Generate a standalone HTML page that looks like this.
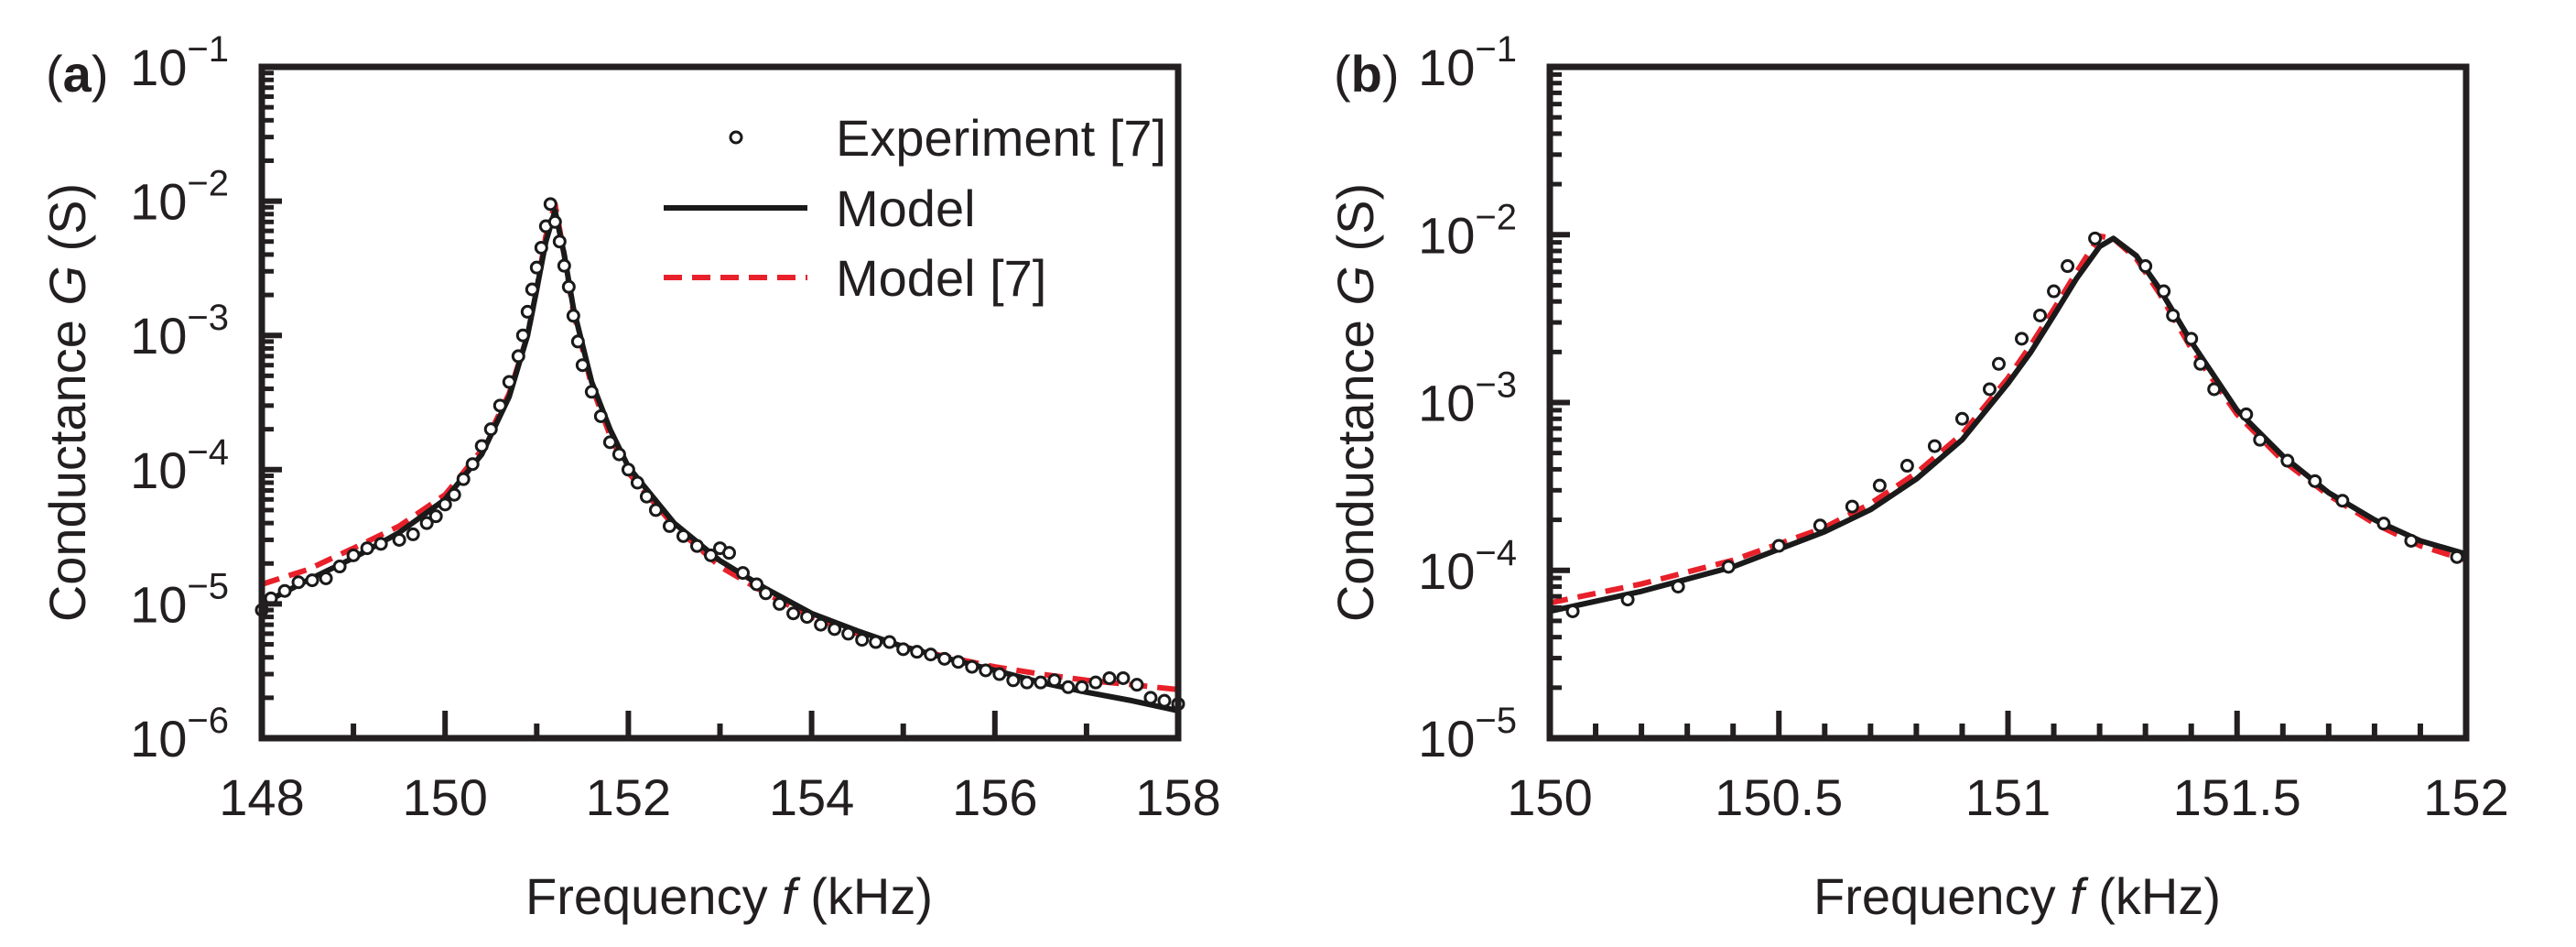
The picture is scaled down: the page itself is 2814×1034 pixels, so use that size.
<!DOCTYPE html>
<html><head><meta charset="utf-8"><style>
html,body{margin:0;padding:0;background:#fff;}
svg{display:block;font-family:"Liberation Sans",Arial,sans-serif;}
</style></head><body>
<svg id="fig" width="2814" height="1034" viewBox="0 0 2814 1034" xmlns="http://www.w3.org/2000/svg"></svg>
<script>
// ---------- Panel (a) data ----------
const expA_f = [148.0,148.1,148.25,148.4,148.55,148.7,148.85,149.0,149.15,149.3,149.5,149.65,149.8,149.9,150.0,150.1,150.2,150.3,150.4,150.5,150.6,150.7,150.8,150.85,150.9,150.95,151.0,151.05,151.1,151.15,151.2,151.25,151.3,151.35,151.4,151.45,151.5,151.6,151.7,151.8,151.9,152.0,152.1,152.2,152.3,152.45,152.6,152.75,152.9,153.0,153.1,153.25,153.4,153.5,153.65,153.8,153.95,154.1,154.25,154.4,154.55,154.7,154.85,155.0,155.15,155.3,155.45,155.6,155.75,155.9,156.05,156.2,156.35,156.5,156.65,156.8,156.95,157.1,157.25,157.4,157.55,157.7,157.85,158.0];
const expA_g = [9e-6,1.1e-5,1.25e-5,1.45e-5,1.5e-5,1.55e-5,1.9e-5,2.3e-5,2.6e-5,2.8e-5,3.0e-5,3.3e-5,4.0e-5,4.5e-5,5.5e-5,6.5e-5,8.5e-5,1.1e-4,1.5e-4,2.0e-4,3.0e-4,4.5e-4,7e-4,1.0e-3,1.5e-3,2.2e-3,3.2e-3,4.5e-3,6.5e-3,9.5e-3,7e-3,5e-3,3.3e-3,2.3e-3,1.4e-3,9e-4,6e-4,3.8e-4,2.5e-4,1.6e-4,1.3e-4,1.0e-4,8e-5,6.3e-5,5e-5,3.8e-5,3.2e-5,2.7e-5,2.3e-5,2.6e-5,2.4e-5,1.7e-5,1.4e-5,1.2e-5,1.0e-5,8.5e-6,8.0e-6,7e-6,6.5e-6,6.0e-6,5.4e-6,5.2e-6,5.2e-6,4.6e-6,4.4e-6,4.2e-6,3.9e-6,3.7e-6,3.4e-6,3.2e-6,3.0e-6,2.7e-6,2.6e-6,2.6e-6,2.7e-6,2.4e-6,2.4e-6,2.6e-6,2.8e-6,2.8e-6,2.5e-6,2.0e-6,1.9e-6,1.8e-6];
const modA_f = [148,148.5,149,149.5,150,150.4,150.7,150.9,151.0,151.1,151.2,151.3,151.4,151.6,151.8,152,152.5,153,153.5,154,154.5,155,155.5,156,156.5,157,157.5,158];
const modA_g = [1.0e-5,1.5e-5,2.2e-5,3.4e-5,6e-5,1.3e-4,3.5e-4,1.0e-3,2.2e-3,5e-3,8.5e-3,4e-3,1.6e-3,4.5e-4,2.0e-4,1.05e-4,4e-5,2.1e-5,1.3e-5,8.5e-6,6.3e-6,4.8e-6,3.9e-6,3.2e-6,2.6e-6,2.2e-6,1.9e-6,1.6e-6];
const mod7A_f = [148,148.5,149,149.5,150,150.4,150.7,150.9,151.0,151.1,151.2,151.3,151.4,151.6,151.8,152,152.5,153,153.5,154,154.5,155,155.5,156,156.5,157,157.5,158];
const mod7A_g = [1.4e-5,1.8e-5,2.6e-5,3.8e-5,6.5e-5,1.4e-4,3.7e-4,1.0e-3,2.2e-3,5.5e-3,9.5e-3,4e-3,1.5e-3,4.2e-4,1.8e-4,9.5e-5,3.8e-5,1.9e-5,1.2e-5,8e-6,6e-6,4.8e-6,4.0e-6,3.4e-6,3.0e-6,2.7e-6,2.5e-6,2.3e-6];
const xTicksA = [148,150,152,154,156,158];
const xTickLabelsA = ["148","150","152","154","156","158"];
// ---------- Panel (b) data ----------
const expB_f = [150.05,150.17,150.28,150.39,150.5,150.59,150.66,150.72,150.78,150.84,150.9,150.96,150.98,151.03,151.07,151.1,151.13,151.19,151.3,151.34,151.36,151.4,151.42,151.45,151.52,151.55,151.61,151.67,151.73,151.82,151.88,151.98];
const expB_g = [5.7e-5,6.7e-5,8e-5,1.05e-4,1.4e-4,1.85e-4,2.4e-4,3.2e-4,4.2e-4,5.5e-4,8e-4,1.2e-3,1.7e-3,2.4e-3,3.3e-3,4.6e-3,6.5e-3,9.5e-3,6.5e-3,4.6e-3,3.3e-3,2.4e-3,1.7e-3,1.2e-3,8.5e-4,6e-4,4.5e-4,3.4e-4,2.6e-4,1.9e-4,1.5e-4,1.2e-4];
const modB_f = [150,150.2,150.4,150.6,150.7,150.8,150.9,151.0,151.05,151.1,151.15,151.2,151.23,151.28,151.33,151.4,151.5,151.6,151.7,151.8,151.9,152];
const modB_g = [5.7e-5,7.5e-5,1.05e-4,1.7e-4,2.3e-4,3.5e-4,6e-4,1.3e-3,2.0e-3,3.3e-3,5.5e-3,8.5e-3,9.5e-3,7.5e-3,4.8e-3,2.3e-3,9e-4,4.8e-4,2.9e-4,2.0e-4,1.5e-4,1.25e-4];
const mod7B_f = [150,150.2,150.4,150.6,150.7,150.8,150.9,151.0,151.05,151.1,151.15,151.2,151.23,151.28,151.33,151.4,151.5,151.6,151.7,151.8,151.9,152];
const mod7B_g = [6.4e-5,8.3e-5,1.15e-4,1.8e-4,2.5e-4,3.8e-4,6.5e-4,1.4e-3,2.2e-3,3.6e-3,6e-3,9.8e-3,9.5e-3,7.2e-3,4.5e-3,2.1e-3,8.5e-4,4.5e-4,2.8e-4,1.9e-4,1.4e-4,1.15e-4];
const xTicksB = [150,150.5,151,151.5,152];
const xTickLabelsB = ["150","150.5","151","151.5","152"];

const NS = "http://www.w3.org/2000/svg";
const svg = document.getElementById('fig');
function mk(tag, attrs, parent){
  const e = document.createElementNS(NS, tag);
  for (const k in attrs) e.setAttribute(k, attrs[k]);
  (parent||svg).appendChild(e);
  return e;
}

function panel(o){
  const g = mk('g', {});
  
  
  const L=o.left, R=o.right, T=73, B=806;
  const xs = v => L + (v - o.xmin)/(o.xmax - o.xmin)*(R-L);
  const ys = v => T + (o.ymaxExp - Math.log10(v))/(o.ymaxExp - o.yminExp)*(B-T);
  // clip
  const cp = mk('clipPath', {id:'clip'+o.key}, g);
  mk('rect', {x:L, y:T, width:R-L, height:B-T}, cp);
  const plot = mk('g', {'clip-path':'url(#clip'+o.key+')'}, g);
  
  
  // red dashed
  const p7 = mk('polyline', {points:o.m7f.map((f,i)=>xs(f)+','+ys(o.m7g[i])).join(' '), fill:'none', stroke:'#e8202a', 'stroke-width':6, 'stroke-dasharray':'20 11', 'stroke-linejoin':'round'}, plot);
  
  
  // black solid
  const pm = mk('polyline', {points:o.mf.map((f,i)=>xs(f)+','+ys(o.mg[i])).join(' '), fill:'none', stroke:'#1a1a1a', 'stroke-width':6, 'stroke-linejoin':'round'}, plot);
  
  
  // experiment points
  o.ef.forEach((f,i)=>{
    const c = mk('circle', {cx:xs(f), cy:ys(o.eg[i]), r:6, fill:'#fff', stroke:'#1a1a1a', 'stroke-width':3}, g);
    
    
  });
  // frame
  const fr = mk('rect', {x:L, y:T, width:R-L, height:B-T, fill:'none', stroke:'#231f20', 'stroke-width':7}, g);
  
  
  // x ticks
  for (let v=o.xmin; v<=o.xmax+1e-9; v+=o.xminor){
    const isMaj = o.xticks.some(t=>Math.abs(t-v)<1e-6);
    const x = xs(v);
    mk('line', {x1:x, y1:B, x2:x, y2:B-(isMaj?30:16), stroke:'#231f20', 'stroke-width':6}, g);
  }
  o.xticks.forEach((t,i)=>{
    const tx = mk('text', {x:xs(t), y:890, 'font-size':56, 'text-anchor':'middle', fill:'#231f20'}, g);
    tx.textContent = o.xlabels[i];
    
    
  });
  // y ticks
  for (let e=o.yminExp; e<=o.ymaxExp; e++){
    const y = ys(Math.pow(10,e));
    mk('line', {x1:L, y1:y, x2:L+22, y2:y, stroke:'#231f20', 'stroke-width':6}, g);
    if (e<o.ymaxExp) for (let m=2;m<=9;m++){
      const ym = ys(m*Math.pow(10,e));
      mk('line', {x1:L, y1:ym, x2:L+13, y2:ym, stroke:'#231f20', 'stroke-width':5}, g);
    }
    const tx = mk('text', {x:L-36, y:y+20, 'font-size':56, 'text-anchor':'end', fill:'#231f20'}, g);
    
    
    const t1 = mk('tspan', {}, tx); t1.textContent = '10';
    const t2 = mk('tspan', {dy:-26, 'font-size':40}, tx); t2.textContent = '\u2212' + (-e);
  }
  // panel label
  const pl = mk('text', {x:L-236, y:100, 'font-size':56, fill:'#231f20'}, g);
  
  
  const a1 = mk('tspan', {}, pl); a1.textContent='(';
  const a2 = mk('tspan', {'font-weight':'bold'}, pl); a2.textContent=o.key;
  const a3 = mk('tspan', {}, pl); a3.textContent=')';
  // y title
  const yt = mk('text', {x:0, y:0, 'font-size':56, 'text-anchor':'middle', fill:'#231f20', transform:'translate('+(L-193)+','+((T+B)/2)+') rotate(-90)'}, g);
  
  
  const y1 = mk('tspan', {}, yt); y1.textContent='Conductance ';
  const y2 = mk('tspan', {'font-style':'italic'}, yt); y2.textContent='G';
  const y3 = mk('tspan', {}, yt); y3.textContent=' (S)';
  // x title
  const xt = mk('text', {x:(L+R)/2 + 10, y:998, 'font-size':56, 'text-anchor':'middle', fill:'#231f20'}, g);
  
  
  const x1 = mk('tspan', {}, xt); x1.textContent='Frequency ';
  const x2 = mk('tspan', {'font-style':'italic'}, xt); x2.textContent='f';
  const x3 = mk('tspan', {}, xt); x3.textContent=' (kHz)';
  return g;
}

panel({name:'panel-a', key:'a', left:286, right:1287, xmin:148, xmax:158, xminor:1, xticks:xTicksA, xlabels:xTickLabelsA, ymaxExp:-1, yminExp:-6, ef:expA_f, eg:expA_g, mf:modA_f, mg:modA_g, m7f:mod7A_f, m7g:mod7A_g});
panel({name:'panel-b', key:'b', left:1693, right:2694, xmin:150, xmax:152, xminor:0.1, xticks:xTicksB, xlabels:xTickLabelsB, ymaxExp:-1, yminExp:-5, ef:expB_f, eg:expB_g, mf:modB_f, mg:modB_g, m7f:mod7B_f, m7g:mod7B_g});

// legend
const lg = mk('g', {});


const lc = mk('circle', {cx:804, cy:150, r:6, fill:'#fff', stroke:'#1a1a1a', 'stroke-width':3}, lg);


const lt1 = mk('text', {x:913, y:170, 'font-size':56, fill:'#231f20'}, lg); lt1.textContent='Experiment [7]';


const ll2 = mk('line', {x1:725, y1:227, x2:882, y2:227, stroke:'#1a1a1a', 'stroke-width':6}, lg);


const lt2 = mk('text', {x:913, y:247, 'font-size':56, fill:'#231f20'}, lg); lt2.textContent='Model';


const ll3 = mk('line', {x1:725, y1:303, x2:882, y2:303, stroke:'#e8202a', 'stroke-width':6, 'stroke-dasharray':'20 11'}, lg);


const lt3 = mk('text', {x:913, y:323, 'font-size':56, fill:'#231f20'}, lg); lt3.textContent='Model [7]';


</script>
</body></html>
